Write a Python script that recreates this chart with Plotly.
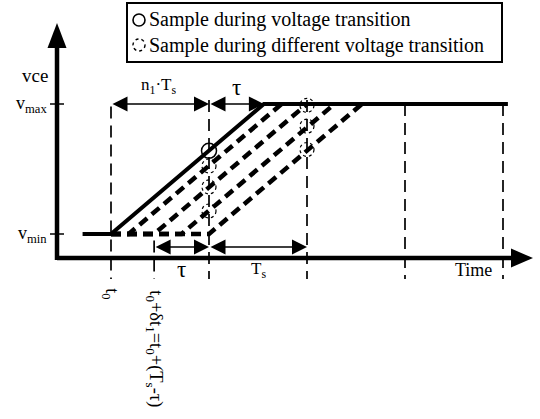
import plotly.graph_objects as go

# ---- data (time in units of Ts, voltage normalised vmin=0, vmax=1) ----
T0 = 0.0
TS = 1.0
TAU = 0.56
DELTA_T = TS - TAU
N1 = 1
V_MIN, V_MAX = 0.0, 1.0
RISE = N1 * TS + TAU

solid_t = [-0.29, T0, T0 + RISE, 4.05]
solid_v = [V_MIN, V_MIN, V_MAX, V_MAX]

dashed_starts = [0.18, 0.44, 0.72, 1.0]

grid_t = [T0, T0 + DELTA_T, 1.0, 2.0, 3.0, 4.0]
grid_top = [0.98, -0.05, 1.03, 1.03, 1.0, 1.0]
grid_bottom = -0.346

sample_t = [1.0]
sample_v = [0.64]
dashed_sample_t = [1.0, 1.0, 1.0, 2.0, 2.0, 2.0]
dashed_sample_v = [0.523, 0.362, 0.177, 0.99, 0.83, 0.65]

axis_t = -0.551
axis_v = -0.185
axis_t_tip = 4.306
axis_v_tip = 1.623

X_RANGE = [-1.1327, 4.3776]
Y_RANGE = [-1.4231, 1.8]
W, H = 540, 419
FONT = "Liberation Serif"
DX = (X_RANGE[1] - X_RANGE[0]) / W   # data units per pixel
DY = (Y_RANGE[1] - Y_RANGE[0]) / H

fig = go.Figure()

# vertical dashed guide lines
for t, top in zip(grid_t, grid_top):
    fig.add_trace(go.Scatter(x=[t, t], y=[top, grid_bottom], mode="lines",
                             line=dict(color="black", width=1.7, dash="12px,7px"),
                             hoverinfo="skip"))

# dashed transitions
for s in dashed_starts:
    fig.add_trace(go.Scatter(x=[T0, s, s + RISE], y=[V_MIN, V_MIN, V_MAX], mode="lines",
                             line=dict(color="black", width=4.5, dash="10px,6px"),
                             hoverinfo="skip"))

# solid transition
fig.add_trace(go.Scatter(x=solid_t, y=solid_v, mode="lines",
                         line=dict(color="black", width=4), hoverinfo="skip"))

# sample during voltage transition
fig.add_trace(go.Scatter(x=sample_t, y=sample_v, mode="markers",
                         marker=dict(symbol="circle-open", size=15, color="black",
                                     line=dict(width=1.5)), hoverinfo="skip"))

# dashed sample circles
rx, ry = DX * 7, DY * 7
shapes = []
for t, v in zip(dashed_sample_t, dashed_sample_v):
    shapes.append(dict(type="circle", xref="x", yref="y", x0=t - rx, x1=t + rx,
                       y0=v - ry, y1=v + ry, line=dict(color="black", width=1.2, dash="dot")))

# axes lines
shapes.append(dict(type="line", xref="x", yref="y", x0=axis_t, x1=axis_t_tip - 15 * DX,
                   y0=axis_v, y1=axis_v, line=dict(color="black", width=4.5)))
shapes.append(dict(type="line", xref="x", yref="y", x0=axis_t, x1=axis_t,
                   y0=axis_v - 2 * DY, y1=axis_v_tip - 15 * DY, line=dict(color="black", width=4.5)))
# axis arrow heads (filled triangles)
hl, hw = 22, 9.5
shapes.append(dict(type="path", xref="x", yref="y", fillcolor="black", line=dict(width=0),
                   path=f"M{axis_t_tip},{axis_v} L{axis_t_tip - hl * DX},{axis_v + hw * DY} "
                        f"L{axis_t_tip - hl * DX},{axis_v - hw * DY} Z"))
shapes.append(dict(type="path", xref="x", yref="y", fillcolor="black", line=dict(width=0),
                   path=f"M{axis_t},{axis_v_tip} L{axis_t - hw * DX},{axis_v_tip - (hl + 3) * DY} "
                        f"L{axis_t + hw * DX},{axis_v_tip - (hl + 3) * DY} Z"))
# tick marks for vmin / vmax
for v in [V_MIN, V_MAX]:
    shapes.append(dict(type="line", xref="x", yref="y", x0=axis_t - 7 * DX, x1=axis_t + 7 * DX,
                       y0=v, y1=v, line=dict(color="black", width=1.5)))

# legend box and symbols
shapes.append(dict(type="rect", xref="paper", yref="paper", x0=127 / W, x1=502 / W,
                   y0=1 - 62 / H, y1=1 - 3 / H, line=dict(color="black", width=2)))
shapes.append(dict(type="circle", xref="paper", yref="paper", x0=133 / W, x1=145 / W,
                   y0=1 - 26 / H, y1=1 - 14 / H, line=dict(color="black", width=1.6)))
shapes.append(dict(type="circle", xref="paper", yref="paper", x0=133 / W, x1=145 / W,
                   y0=1 - 51 / H, y1=1 - 39 / H, line=dict(color="black", width=1.4, dash="dot")))

annotations = []


def dim_arrow(t_a, t_b, v):
    return dict(x=t_b, y=v, ax=t_a, ay=v, xref="x", yref="y", axref="x", ayref="y",
                text="", showarrow=True, arrowhead=2, startarrowhead=2,
                arrowside="end+start",
                arrowwidth=1.5, arrowsize=2.0, startarrowsize=2.0,
                arrowcolor="black", standoff=0, startstandoff=0)


arrow_v_top = V_MAX
arrow_v_bot = -0.1
annotations.append(dim_arrow(T0, T0 + N1 * TS, arrow_v_top))
annotations.append(dim_arrow(T0 + N1 * TS, T0 + RISE, arrow_v_top))
annotations.append(dim_arrow(T0 + DELTA_T, T0 + N1 * TS, arrow_v_bot))
annotations.append(dim_arrow(T0 + N1 * TS, T0 + 2 * TS, arrow_v_bot))


def label(text, x, y, size=17, xanchor="center", yanchor="middle", angle=0, xref="x", yref="y"):
    return dict(text=text, x=x, y=y, xref=xref, yref=yref, showarrow=False,
                xanchor=xanchor, yanchor=yanchor, textangle=angle,
                font=dict(family=FONT, size=size, color="black"))


annotations.append(label("n<sub>1</sub>·T<sub>s</sub>", (T0 + N1 * TS) / 2 - 0.01, 1.14, size=17))
annotations.append(label("τ", T0 + N1 * TS + TAU / 2, 1.13, size=23))
annotations.append(label("τ", T0 + DELTA_T + TAU / 2, -0.27, size=23))
annotations.append(label("T<sub>s</sub>", T0 + 1.5 * TS, -0.28, size=17))
annotations.append(label("Time", 3.70, -0.275, size=18))
annotations.append(label("vce", axis_t - 0.22, 1.22, size=19))
annotations.append(label("v<sub>max</sub>", axis_t - 0.08, V_MAX, size=18, xanchor="right"))
annotations.append(label("v<sub>min</sub>", axis_t - 0.08, V_MIN, size=18, xanchor="right"))
annotations.append(label("t<sub>0</sub>", T0, -0.455, size=18, angle=90))
annotations.append(label("t<sub>0</sub>+δt<sub>1</sub>=t<sub>0</sub>+(T<sub>s</sub>-τ)",
                         T0 + DELTA_T, -0.88, size=18.5, angle=90))

# legend texts
annotations.append(label("Sample during voltage transition", 147 / W, 1 - 20 / H, size=20,
                         xanchor="left", xref="paper", yref="paper"))
annotations.append(label("Sample during different voltage transition", 147 / W, 1 - 45 / H,
                         size=20, xanchor="left", xref="paper", yref="paper"))

fig.update_layout(width=W, height=H, margin=dict(l=0, r=0, t=0, b=0),
                  paper_bgcolor="white", plot_bgcolor="white", showlegend=False,
                  xaxis=dict(visible=False, range=X_RANGE, fixedrange=True),
                  yaxis=dict(visible=False, range=Y_RANGE, fixedrange=True),
                  shapes=shapes, annotations=annotations)

fig.write_html("out.html", config={"displayModeBar": False},
               post_script="document.body.style.margin='0px';")
